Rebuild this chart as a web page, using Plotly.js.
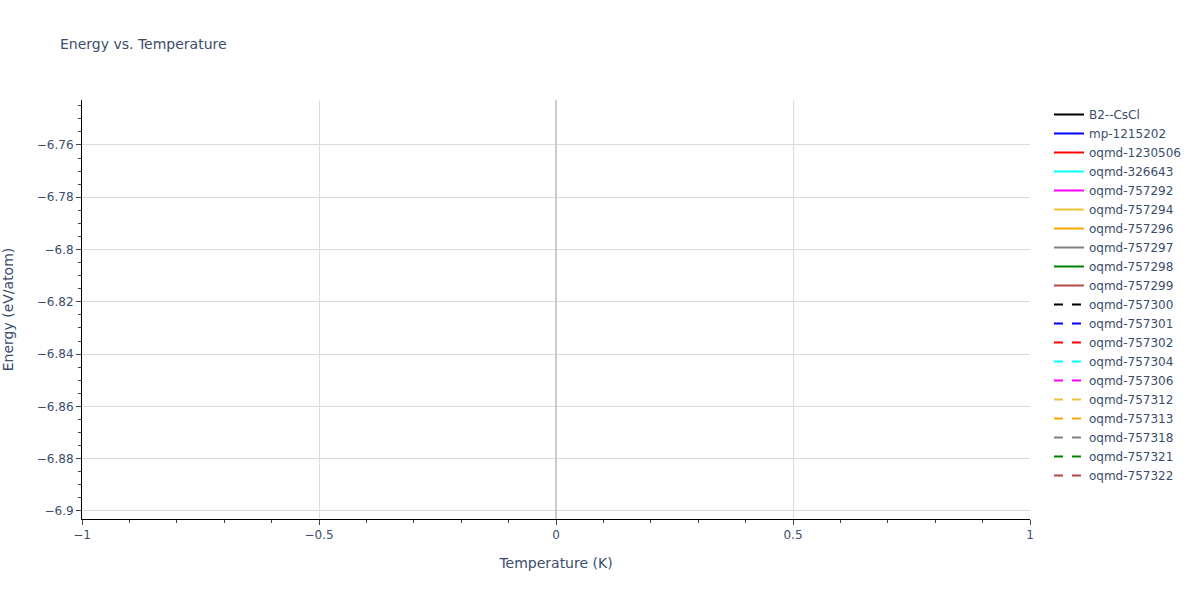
<!DOCTYPE html>
<html>
<head>
<meta charset="utf-8">
<script src="https://cdn.plot.ly/plotly-3.0.1.min.js"></script>
<style>html,body{margin:0;padding:0;background:#fff;}#chart{width:1200px;height:600px;}</style>
</head>
<body>
<div id="chart"></div>
<script>
// Each structure has a single (temperature, energy) point, so no line segment is visible.
const names = ["B2--CsCl","mp-1215202","oqmd-1230506","oqmd-326643","oqmd-757292","oqmd-757294","oqmd-757296","oqmd-757297","oqmd-757298","oqmd-757299","oqmd-757300","oqmd-757301","oqmd-757302","oqmd-757304","oqmd-757306","oqmd-757312","oqmd-757313","oqmd-757318","oqmd-757321","oqmd-757322"];
const temperatures = [0,0,0,0,0,0,0,0,0,0,0,0,0,0,0,0,0,0,0,0];
const energies = [-6.75,-6.80,-6.82,-6.83,-6.84,-6.85,-6.86,-6.87,-6.88,-6.89,-6.896,-6.85,-6.84,-6.83,-6.82,-6.81,-6.80,-6.79,-6.78,-6.77];
const colors = ["black","blue","red","cyan","magenta","#f0c23a","orange","grey","green","#b04848","black","blue","red","cyan","magenta","#f0c23a","orange","grey","green","#b04848"];
const dashes = ["solid","solid","solid","solid","solid","solid","solid","solid","solid","solid","dash","dash","dash","dash","dash","dash","dash","dash","dash","dash"];

const font = "Verdana, 'DejaVu Sans', sans-serif";
const traces = names.map((n, i) => ({
  type: "scatter", mode: "lines", name: n,
  x: [temperatures[i]], y: [energies[i]],
  line: {color: colors[i], dash: dashes[i], width: 2}
}));

const layout = {
  width: 1200, height: 600,
  margin: {l: 82, r: 170, t: 100, b: 81},
  paper_bgcolor: "#fff", plot_bgcolor: "#fff",
  font: {family: font, size: 12, color: "#3b4d6b"},
  title: {text: "Energy vs. Temperature", x: 0.05, xanchor: "left", y: 0.934, font: {family: font, size: 14, color: "#3b4d6b"}},
  xaxis: {
    title: {text: "Temperature (K)", font: {family: font, size: 14}, standoff: 16},
    range: [-1, 1], dtick: 0.5,
    showline: true, linecolor: "black", linewidth: 1,
    ticks: "outside", tickcolor: "#444", ticklen: 5,
    showgrid: true, gridcolor: "#dcdcdc",
    zeroline: true, zerolinecolor: "#cccccc", zerolinewidth: 2,
    minor: {dtick: 0.1, ticks: "outside", ticklen: 3, tickcolor: "#444", showgrid: false}
  },
  yaxis: {
    title: {text: "Energy (eV/atom)", font: {family: font, size: 14}, standoff: 24},
    range: [-6.9031, -6.7428], dtick: 0.02, tick0: -6.9,
    showline: true, linecolor: "black", linewidth: 1,
    ticks: "outside", tickcolor: "#444", ticklen: 5,
    showgrid: true, gridcolor: "#dcdcdc",
    zeroline: false,
    minor: {dtick: 0.005, ticks: "outside", ticklen: 3, tickcolor: "#444", showgrid: false}
  },
  legend: {x: 1.02, y: 1, xanchor: "left", yanchor: "top", font: {family: font, size: 12, color: "#3b4d6b"}, tracegroupgap: 0},
  showlegend: true
};

Plotly.newPlot("chart", traces, layout, {displayModeBar: false, staticPlot: true});
</script>
</body>
</html>
